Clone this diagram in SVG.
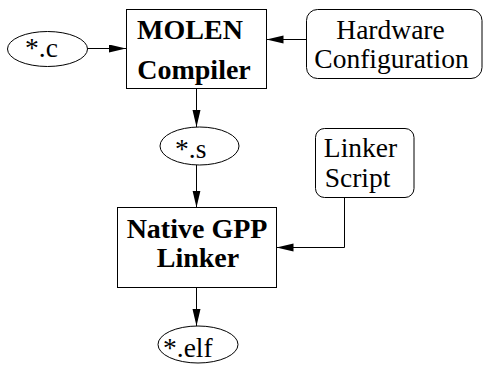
<svg xmlns="http://www.w3.org/2000/svg" width="483" height="365" viewBox="0 0 483 365">
  <defs>
    <marker id="arr" markerUnits="userSpaceOnUse" markerWidth="18" markerHeight="10" refX="17" refY="4" orient="auto">
      <path d="M0,0 L17,4 L0,8 Z" fill="#000"/>
    </marker>
    <style>
      .shape { fill: #fff; stroke: #000; stroke-width: 1; }
      .edge { fill: none; stroke: #000; stroke-width: 1; marker-end: url(#arr); }
      text { font-family: 'Liberation Serif', 'Times New Roman', 'DejaVu Serif', serif; font-size: 27.5px; fill: #000; }
      .bold { font-weight: bold; font-size: 28px; }
    </style>
  </defs>
  <rect width="483" height="365" fill="#fff"/>

  <g id="connectors">
    <line class="edge" x1="87.5" y1="48.5" x2="126" y2="48.5"/>
    <line class="edge" x1="306.5" y1="39.5" x2="266.5" y2="39.5"/>
    <line class="edge" x1="196.5" y1="88" x2="196.5" y2="127"/>
    <line class="edge" x1="196.5" y1="165" x2="196.5" y2="207.5"/>
    <polyline class="edge" points="344.5,197.5 344.5,247.5 276.5,247.5"/>
    <line class="edge" x1="196.5" y1="287.5" x2="196.5" y2="326"/>
  </g>

  <g id="node-c">
    <ellipse class="shape" cx="47.5" cy="49" rx="40" ry="17.5"/>
    <text x="25" y="56.5">*.c</text>
  </g>

  <g id="node-molen">
    <rect class="shape" x="126.5" y="9.5" width="140" height="79"/>
    <text class="bold" x="190" y="38.5" text-anchor="middle">MOLEN</text>
    <text class="bold" x="194" y="78.5" text-anchor="middle">Compiler</text>
  </g>

  <g id="node-hw">
    <rect class="shape" x="306.5" y="9.5" width="175.5" height="69" rx="11" ry="11"/>
    <text x="390.5" y="38.5" text-anchor="middle">Hardware</text>
    <text x="391.5" y="67.5" text-anchor="middle">Configuration</text>
  </g>

  <g id="node-s">
    <ellipse class="shape" cx="199.5" cy="146" rx="39.5" ry="19"/>
    <text x="175" y="158">*.s</text>
  </g>

  <g id="node-linker-script">
    <rect class="shape" x="315.5" y="128.5" width="98.5" height="69" rx="9" ry="9"/>
    <text x="360.5" y="157" text-anchor="middle">Linker</text>
    <text x="357.5" y="187" text-anchor="middle">Script</text>
  </g>

  <g id="node-native">
    <rect class="shape" x="117.5" y="207.5" width="159" height="80"/>
    <text class="bold" x="197" y="237.5" text-anchor="middle">Native GPP</text>
    <text class="bold" x="198" y="267" text-anchor="middle">Linker</text>
  </g>

  <g id="node-elf">
    <ellipse class="shape" cx="198" cy="344.5" rx="40" ry="18.5"/>
    <text x="163" y="357">*.elf</text>
  </g>
</svg>
